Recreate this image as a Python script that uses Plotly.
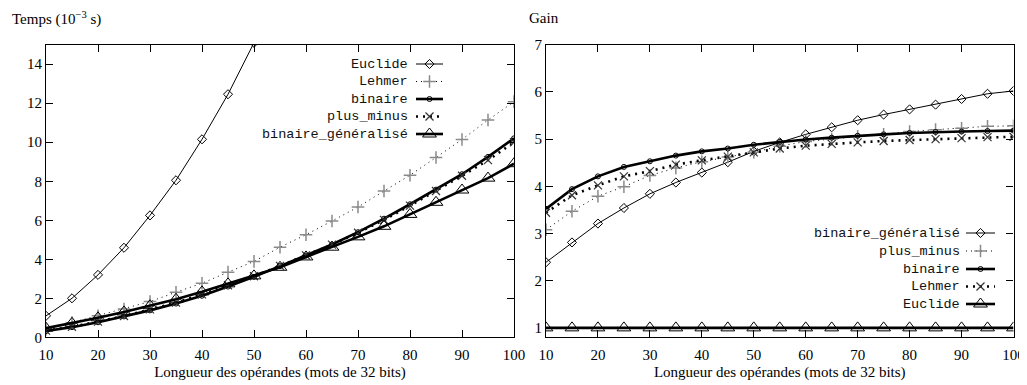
import plotly.graph_objects as go

# ---------------- data ----------------
lengths = [10, 15, 20, 25, 30, 35, 40, 45, 50, 55, 60, 65, 70, 75, 80, 85, 90, 95, 100]
euclide_len = [10, 15, 20, 25, 30, 35, 40, 45, 50, 55]

# left: times (10^-3 s)
euclide_t = [1.1, 2.0, 3.2, 4.59, 6.25, 8.05, 10.15, 12.46, 15.1, 17.9]
lehmer_t = [0.4, 0.75, 1.1, 1.45, 1.83, 2.31, 2.77, 3.34, 3.89, 4.62, 5.26, 5.96, 6.68, 7.5, 8.31, 9.22, 10.14, 11.14, 12.08]
binaire_t = [0.32, 0.52, 0.77, 1.07, 1.38, 1.73, 2.13, 2.6, 3.1, 3.65, 4.19, 4.76, 5.39, 6.08, 6.82, 7.57, 8.36, 9.25, 10.2]
plusminus_t = [0.34, 0.54, 0.8, 1.09, 1.43, 1.78, 2.2, 2.67, 3.13, 3.66, 4.2, 4.75, 5.36, 6.02, 6.75, 7.5, 8.28, 9.08, 10.0]
bingen_t = [0.47, 0.72, 1.0, 1.3, 1.62, 1.95, 2.33, 2.74, 3.15, 3.59, 4.12, 4.62, 5.15, 5.69, 6.3, 6.92, 7.55, 8.16, 8.9]

# right: gains
bingen_g = [2.39, 2.81, 3.21, 3.54, 3.84, 4.08, 4.29, 4.51, 4.74, 4.93, 5.1, 5.25, 5.4, 5.52, 5.63, 5.73, 5.85, 5.96, 6.02]
plusminus_g = [3.08, 3.47, 3.79, 3.99, 4.23, 4.39, 4.52, 4.62, 4.72, 4.85, 4.95, 5.0, 5.06, 5.1, 5.16, 5.2, 5.23, 5.27, 5.28]
binaire_g = [3.52, 3.94, 4.21, 4.41, 4.53, 4.65, 4.74, 4.8, 4.88, 4.94, 4.99, 5.03, 5.07, 5.1, 5.13, 5.15, 5.16, 5.17, 5.18]
lehmer_g = [3.44, 3.81, 4.02, 4.21, 4.32, 4.46, 4.55, 4.63, 4.72, 4.8, 4.86, 4.9, 4.93, 4.96, 4.98, 5.0, 5.02, 5.04, 5.05]
euclide_g = [1.0, 1.0, 1.0, 1.0, 1.0, 1.0, 1.0, 1.0, 1.0, 1.0, 1.0, 1.0, 1.0, 1.0, 1.0, 1.0, 1.0, 1.0, 1.0]

x_ticks = [10, 20, 30, 40, 50, 60, 70, 80, 90, 100]
left_y_ticks = [0, 2, 4, 6, 8, 10, 12, 14]
right_y_ticks = [1, 2, 3, 4, 5, 6, 7]

left_names = ["Euclide", "Lehmer", "binaire", "plus_minus", "binaire_généralisé"]
right_names = ["binaire_généralisé", "plus_minus", "binaire", "Lehmer", "Euclide"]
x_title = "Longueur des opérandes (mots de 32 bits)"

# ---------------- styles ----------------
WIN_W, WIN_H = 1027, 385
OFF = 8  # default page body margin
W, H = WIN_W - OFF, WIN_H - OFF
SERIF = "Liberation Serif"
MONO = "Liberation Mono"
GREY = "#8a8a8a"

sty = {
    "diamond": dict(line=dict(color="black", width=1), marker=dict(symbol="diamond-open", size=7, color="black", line=dict(width=1))),
    "plus": dict(line=dict(color="black", width=1, dash="1px,4px"), marker=dict(symbol="cross-thin-open", size=9, color=GREY, line=dict(width=1.5, color=GREY))),
    "circle": dict(line=dict(color="black", width=2.6), marker=dict(symbol="circle-open", size=5, color="black", line=dict(width=1))),
    "x": dict(line=dict(color="black", width=2.6, dash="2px,5px"), marker=dict(symbol="x-thin-open", size=8, color="#333333", line=dict(width=1.2, color="#333333"))),
    "tri": dict(line=dict(color="black", width=2.6), marker=dict(symbol="triangle-up-open", size=12, color="black", line=dict(width=1))),
}

def px_x(p):
    return (p - OFF) / W

def px_y(p):
    return 1 - (p - OFF) / H

fig = go.Figure()

def add(xs, ys, style, xa, ya):
    s = sty[style]
    fig.add_trace(go.Scatter(x=xs, y=ys, mode="lines+markers", line=s["line"], marker=s["marker"],
                             xaxis=xa, yaxis=ya, showlegend=False, hoverinfo="skip"))

# left panel
add(euclide_len, euclide_t, "diamond", "x", "y")
add(lengths, lehmer_t, "plus", "x", "y")
add(lengths, binaire_t, "circle", "x", "y")
add(lengths, plusminus_t, "x", "x", "y")
add(lengths, bingen_t, "tri", "x", "y")

# right panel
add(lengths, bingen_g, "diamond", "x2", "y2")
add(lengths, plusminus_g, "plus", "x2", "y2")
add(lengths, binaire_g, "circle", "x2", "y2")
add(lengths, lehmer_g, "x", "x2", "y2")
add(lengths, euclide_g, "tri", "x2", "y2")

# key samples (gnuplot-style keys: text right-aligned, sample after)
def key(names, styles, text_right, x0, x1, rows):
    for name, st, yrow in zip(names, styles, rows):
        s = sty[st]
        fig.add_trace(go.Scatter(x=[x0, x1], y=[yrow, yrow], mode="lines", line=s["line"],
                                 xaxis="x3", yaxis="y3", showlegend=False, hoverinfo="skip"))
        fig.add_trace(go.Scatter(x=[(x0 + x1) / 2], y=[yrow], mode="markers", marker=s["marker"],
                                 xaxis="x3", yaxis="y3", showlegend=False, hoverinfo="skip"))
        fig.add_annotation(x=text_right, y=yrow, xref="x3", yref="y3", text=name, showarrow=False,
                           xanchor="right", yanchor="middle", font=dict(family=MONO, size=13.5, color="#111111"))

key(left_names, ["diamond", "plus", "circle", "x", "tri"], 410, 416, 443, [64, 81.5, 99, 116.5, 134])
key(right_names, ["diamond", "plus", "circle", "x", "tri"], 962, 966, 995, [233, 251, 269, 286.5, 304])

top = 44.7
bottom = 337.3
common_x = dict(tickvals=x_ticks, ticks="inside", ticklen=7, tickcolor="black", tickwidth=1,
                showline=True, linecolor="black", linewidth=1.2, mirror="allticks", showgrid=False,
                zeroline=False, range=[10, 100], automargin=False, ticklabelstandoff=4,
                tickfont=dict(family=SERIF, size=15, color="black"),
                title=dict(text=x_title, font=dict(family=SERIF, size=15, color="black"), standoff=4))
common_y = dict(ticks="inside", ticklen=7, tickcolor="black", tickwidth=1, automargin=False,
                showline=True, linecolor="black", linewidth=1.2, mirror="allticks", showgrid=False,
                zeroline=False, tickfont=dict(family=SERIF, size=15, color="black"))

fig.update_layout(
    width=W, height=H,
    margin=dict(l=0, r=0, t=0, b=0, autoexpand=False),
    paper_bgcolor="white", plot_bgcolor="rgba(0,0,0,0)",
    showlegend=False,
    xaxis=dict(domain=[px_x(46), px_x(514)], anchor="y", **common_x),
    yaxis=dict(domain=[px_y(bottom), px_y(top)], anchor="x", range=[0, 15], tickvals=left_y_ticks, **common_y),
    xaxis2=dict(domain=[px_x(546), px_x(1013.5)], anchor="y2", **common_x),
    yaxis2=dict(domain=[px_y(bottom), px_y(top)], anchor="x2", range=[0.8, 7], tickvals=right_y_ticks, **common_y),
    xaxis3=dict(domain=[0, 1], range=[OFF, WIN_W], visible=False, anchor="y3", fixedrange=True, automargin=False),
    yaxis3=dict(domain=[0, 1], range=[WIN_H, OFF], visible=False, anchor="x3", fixedrange=True, automargin=False),
)

fig.add_annotation(x=10, y=18, xref="x3", yref="y3", text="Temps (10<sup>−3</sup> s)", showarrow=False,
                   xanchor="left", yanchor="middle", font=dict(family=SERIF, size=15, color="black"))
fig.add_annotation(x=527, y=18, xref="x3", yref="y3", text="Gain", showarrow=False,
                   xanchor="left", yanchor="middle", font=dict(family=SERIF, size=15, color="black"))

fig.write_html("out.html")
